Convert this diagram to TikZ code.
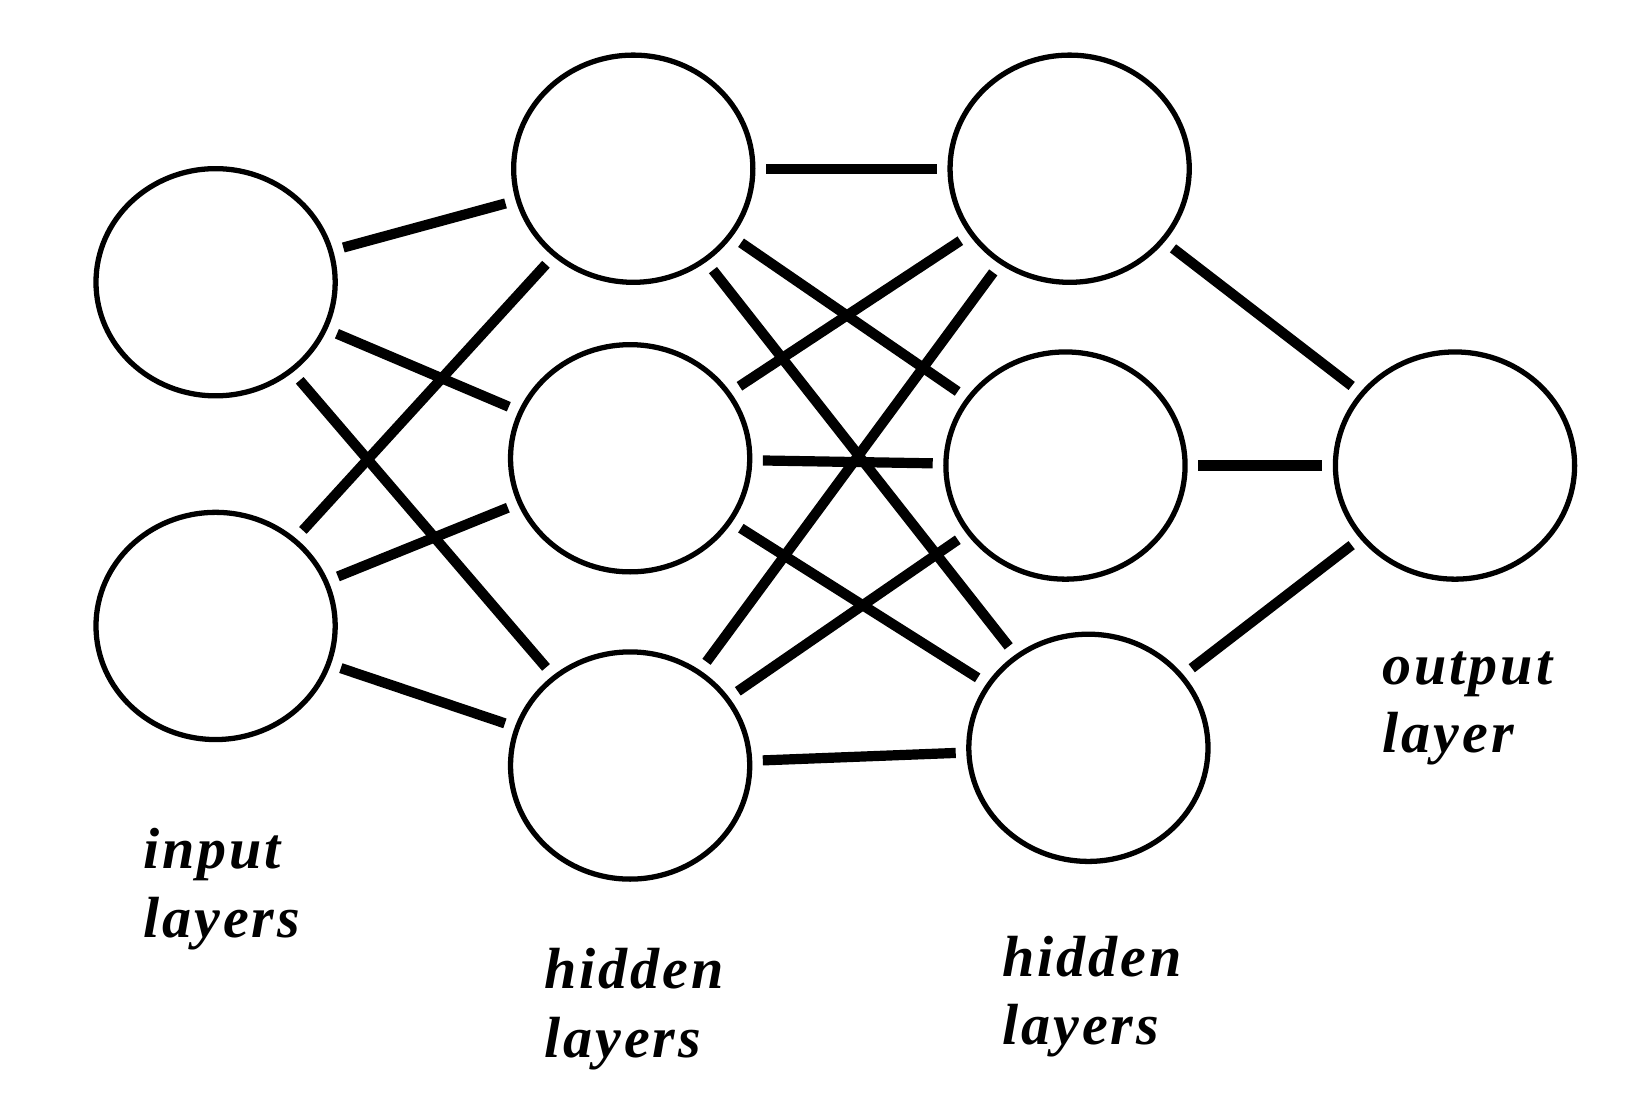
\documentclass[tikz,border=0pt]{standalone}
\usepackage{fontspec}
\setmainfont{Liberation Serif}[LetterSpace=5]
\usetikzlibrary{shapes.geometric}
\begin{document}
\begin{tikzpicture}[x=0.0104cm,y=-0.0104cm,
 neuron/.style={draw,line width=1.5pt,ellipse,minimum width=2.39cm,minimum height=2.27cm,inner sep=0pt},
 conn/.style={line width=2.9pt,shorten <=3pt,shorten >=3pt},
 lab/.style={anchor=north west,align=left,font=\fontsize{16.5}{19.5}\selectfont\bfseries\itshape,inner sep=0pt}]
\useasboundingbox (0,0) rectangle (1565,1060);
\node[neuron] (i1) at (207,271) {};
\node[neuron] (i2) at (207,601) {};
\node[neuron] (a1) at (608,162) {};
\node[neuron] (a2) at (605,440) {};
\node[neuron] (a3) at (605,735) {};
\node[neuron] (b1) at (1027,162) {};
\node[neuron] (b2) at (1023,447) {};
\node[neuron] (b3) at (1045,718) {};
\node[neuron] (o) at (1397,447) {};
\foreach \s in {i1,i2} \foreach \t in {a1,a2,a3} \draw[conn] (\s) -- (\t);
\foreach \s in {a1,a2,a3} \foreach \t in {b1,b2,b3} \draw[conn] (\s) -- (\t);
\foreach \s in {b1,b2,b3} \draw[conn] (\s) -- (o);
\node[lab] (t1) at (137,795) {input\\layers};
\node[lab] (t2) at (522,910) {hidden\\layers};
\node[lab] (t3) at (962,898) {hidden\\layers};
\node[lab] (t4) at (1327,625) {output\\layer};
\end{tikzpicture}
\end{document}
